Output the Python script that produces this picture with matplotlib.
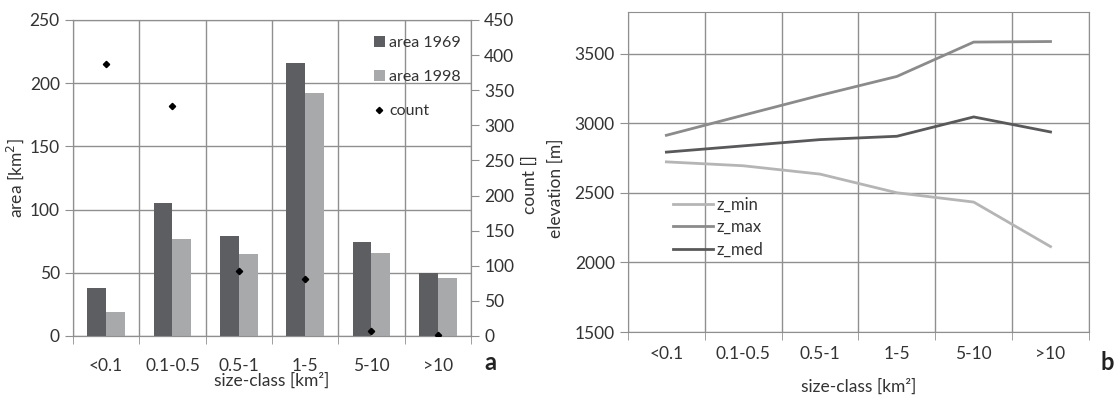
import numpy as np
import matplotlib.pyplot as plt

plt.rcParams['font.family'] = ['Lato', 'DejaVu Sans']

classes = ["<0.1", "0.1-0.5", "0.5-1", "1-5", "5-10", ">10"]
area_1969 = [38, 105, 79, 216, 74, 50]
area_1998 = [19, 77, 65, 192, 66, 46]
count = [388, 327, 92, 81, 7, 2]

z_min = [2723, 2695, 2635, 2501, 2434, 2114]
z_max = [2914, 3058, 3201, 3337, 3584, 3588]
z_med = [2793, 2838, 2883, 2907, 3046, 2938]

grid_c = "#8f8f8f"
dark = "#5d5e62"
light = "#a8a9ab"
txt = "#333333"
fs = 12.5

fig = plt.figure(figsize=(11.14, 3.97), dpi=100)


def style(a, pad):
    a.set_xlim(-0.5, 5.5)
    a.set_xticks(np.arange(len(classes)))
    a.set_xticklabels(classes)
    a.set_xticks(np.arange(-0.5, 5.6, 1), minor=True)
    a.tick_params(axis='x', which='major', length=0, pad=pad, labelsize=fs, colors=txt)
    a.tick_params(axis='x', which='minor', length=6, color=grid_c)
    a.tick_params(axis='y', length=6, color=grid_c, labelsize=fs, colors=txt)
    a.grid(True, axis='y', color=grid_c, lw=1)
    a.grid(True, axis='x', which='minor', color=grid_c, lw=1)
    for s in a.spines.values():
        s.set_color(grid_c)


def ylab(a, text, xc, yc):
    a.set_ylabel(text, fontsize=fs, color=txt)
    a.yaxis.set_label_coords(xc, yc)
    a.yaxis.label.set_va('center')
    a.yaxis.label.set_ha('center')


# ---- panel a ----
ax = fig.add_axes([0.0655, 0.1537, 0.3573, 0.796])
x = np.arange(len(classes))
w = 0.285
ax.bar(x - w / 2, area_1969, w, color=dark, label="area 1969", zorder=3)
ax.bar(x + w / 2, area_1998, w, color=light, label="area 1998", zorder=3)
ax.set_ylim(0, 250)
ax.set_yticks(np.arange(0, 251, 50))
style(ax, 16)
ylab(ax, "area [km$^2$]", -0.145, 0.5)
ax.set_xlabel("size-class [km²]", fontsize=fs, color=txt)
ax.xaxis.set_label_coords(0.5, -0.142)
ax.xaxis.label.set_va('center')

ax2 = ax.twinx()
ax2.plot(x, count, 'D', color='black', ms=3.2, label="count", zorder=4)
ax2.set_ylim(0, 450)
ax2.set_yticks(np.arange(0, 451, 50))
ax2.tick_params(axis='y', length=6, color=grid_c, labelsize=fs, colors=txt)
for s in ax2.spines.values():
    s.set_color(grid_c)
ylab(ax2, "count []", 1.148, 0.48)

h1, l1 = ax.get_legend_handles_labels()
h2, l2 = ax2.get_legend_handles_labels()
ax2.legend(h1 + h2, l1 + l2, loc='upper left', frameon=False, fontsize=11.5,
           handlelength=0.7, handletextpad=0.3, labelspacing=1.25, borderpad=0,
           bbox_to_anchor=(0.735, 0.975), labelcolor=txt)
fig.text(0.44, 0.088, "a", fontsize=17, fontweight='bold', color="#222222",
         ha='center', va='center')

# ---- panel b ----
bx = fig.add_axes([0.5637, 0.1637, 0.4138, 0.806])
bx.plot(x, z_min, color="#b5b5b5", lw=2, label="z_min")
bx.plot(x, z_max, color="#8b8b8b", lw=2, label="z_max")
bx.plot(x, z_med, color="#59595b", lw=2, label="z_med")
bx.set_ylim(1500, 3800)
bx.set_yticks(np.arange(1500, 3501, 500))
style(bx, 10)
ylab(bx, "elevation [m]", -0.156, 0.45)
bx.set_xlabel("size-class [km²]", fontsize=fs, color=txt)
bx.xaxis.set_label_coords(0.5, -0.172)
bx.xaxis.label.set_va('center')
bx.legend(loc='upper left', bbox_to_anchor=(0.08, 0.45), frameon=False,
          fontsize=12, handlelength=2.4, handletextpad=0.2, labelspacing=0.4,
          borderpad=0, labelcolor=txt)
fig.text(0.994, 0.088, "b", fontsize=17, fontweight='bold', color="#222222",
         ha='center', va='center')

fig.savefig("out.png", dpi=100)
